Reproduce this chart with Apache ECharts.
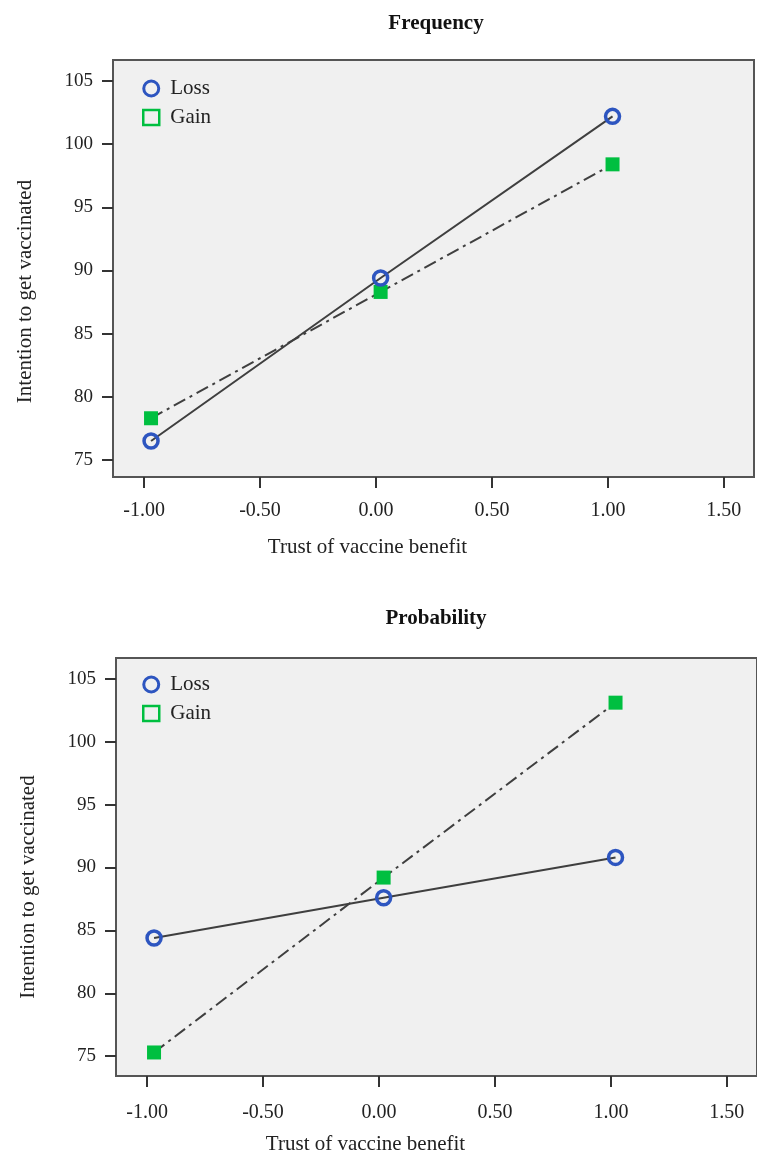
<!DOCTYPE html>
<html>
<head>
<meta charset="utf-8">
<script src="https://cdn.jsdelivr.net/npm/echarts@6/dist/echarts.min.js"></script>
<style>
  html, body { margin: 0; padding: 0; background: #fff; }
  #chart { width: 757px; height: 1156px; }
</style>
</head>
<body>
<div id="chart"></div>
<script>
// trust of vaccine benefit (centred), same x for both panels
const trustX = [-0.97, 0.02, 1.02];

// Frequency panel
const freqLoss = [76.5, 89.4, 102.2];
const freqGain = [78.3, 88.3, 98.4];

// Probability panel
const probLoss = [84.4, 87.6, 90.8];
const probGain = [75.3, 89.2, 103.1];

const xTicks = [-1, -0.5, 0, 0.5, 1, 1.5];
const yTicks = [75, 80, 85, 90, 95, 100, 105];

const serif = 'Liberation Serif';
const lossColor = '#2d55c0';
const gainColor = '#00bf40';
const lineColor = '#3f3f3f';

function pairs(ys) {
  return trustX.map((x, i) => [x, ys[i]]);
}

function xAxisFor(gridIndex, namePad, nameGap, labelMargin) {
  return {
    type: 'value', gridIndex: gridIndex, position: 'bottom',
    min: -1.134, max: 1.63,
    name: 'Trust of vaccine benefit',
    nameLocation: 'middle', nameGap: nameGap,
    nameTextStyle: { fontFamily: serif, fontSize: 21, color: '#222', padding: [0, namePad, 0, 0] },
    axisLine: { show: false, onZero: false },
    axisTick: { show: true, customValues: xTicks, length: 11, lineStyle: { color: '#333', width: 2 } },
    axisLabel: {
      customValues: xTicks, margin: labelMargin,
      fontFamily: serif, fontSize: 20, color: '#222',
      formatter: v => v.toFixed(2)
    },
    splitLine: { show: false }
  };
}

function yAxisFor(gridIndex, yMin, yMax, namePad) {
  return {
    type: 'value', gridIndex: gridIndex, position: 'left',
    min: yMin, max: yMax,
    name: 'Intention to get vaccinated',
    nameLocation: 'middle', nameGap: 77, nameRotate: 90,
    nameTextStyle: { fontFamily: serif, fontSize: 21, color: '#222', padding: [0, namePad, 0, 0] },
    axisLine: { show: false, onZero: false },
    axisTick: { show: true, customValues: yTicks, length: 11, lineStyle: { color: '#333', width: 2 } },
    axisLabel: { customValues: yTicks, margin: 20, fontFamily: serif, fontSize: 19, color: '#222' },
    splitLine: { show: false }
  };
}

function legendFor(top) {
  return {
    orient: 'vertical', left: 142, top: top, padding: 0,
    itemWidth: 16, itemHeight: 15, itemGap: 8,
    textStyle: { fontFamily: serif, fontSize: 21, color: '#222', padding: [0, 0, 0, 6] },
    data: [
      { name: 'Loss', icon: 'circle', itemStyle: { color: 'rgba(0,0,0,0)', borderColor: lossColor, borderWidth: 3 } },
      { name: 'Gain', icon: 'rect', itemStyle: { color: 'rgba(0,0,0,0)', borderColor: gainColor, borderWidth: 2.5 } }
    ]
  };
}

function lossSeries(idx, data) {
  return {
    name: 'Loss', type: 'line', xAxisIndex: idx, yAxisIndex: idx,
    data: pairs(data),
    symbol: 'circle', symbolSize: 14,
    itemStyle: { color: 'rgba(0,0,0,0)', borderColor: lossColor, borderWidth: 3.5 },
    lineStyle: { color: lineColor, width: 2 },
    z: 3
  };
}

function gainSeries(idx, data) {
  return {
    name: 'Gain', type: 'line', xAxisIndex: idx, yAxisIndex: idx,
    data: pairs(data),
    symbol: 'rect', symbolSize: 14,
    itemStyle: { color: gainColor },
    lineStyle: { color: lineColor, width: 2, type: [13, 5, 3, 5] },
    z: 2
  };
}

const chart = echarts.init(document.getElementById('chart'));
chart.setOption({
  animation: false,
  backgroundColor: '#ffffff',
  title: [
    { text: 'Frequency', left: 431, top: 8, textAlign: 'center',
      textStyle: { fontFamily: serif, fontSize: 21, fontWeight: 'bold', color: '#111' } },
    { text: 'Probability', left: 431, top: 603, textAlign: 'center',
      textStyle: { fontFamily: serif, fontSize: 21, fontWeight: 'bold', color: '#111' } }
  ],
  legend: [legendFor(78), legendFor(674)],
  grid: [
    { left: 113, top: 60, width: 641, height: 417, show: true,
      backgroundColor: '#f0f0f0', borderColor: '#555', borderWidth: 2 },
    { left: 116, top: 658, width: 643, height: 422, show: true,
      backgroundColor: '#f0f0f0', borderColor: '#555', borderWidth: 2 }
  ],
  xAxis: [xAxisFor(0, 132, 60, 24), xAxisFor(1, 142, 58, 27)],
  yAxis: [yAxisFor(0, 73.65, 106.66, 46), yAxisFor(1, 73.43, 106.65, 40)],
  series: [
    gainSeries(0, freqGain),
    lossSeries(0, freqLoss),
    gainSeries(1, probGain),
    lossSeries(1, probLoss)
  ]
});
</script>
</body>
</html>
